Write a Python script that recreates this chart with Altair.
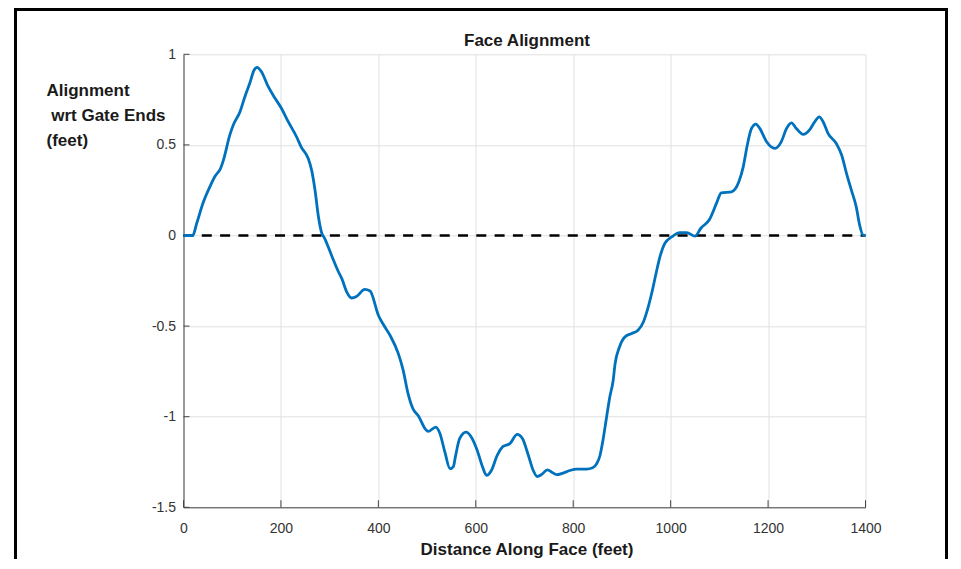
import altair as alt
import pandas as pd

# ---- data ----
distance = [0, 19, 27, 41, 54, 65, 76, 82, 95, 102, 116, 126, 136, 145, 151, 160, 174, 188,
            201, 215, 232, 242, 256, 263, 270, 277, 283, 290, 304, 318, 325, 335, 345, 355,
            372, 383, 400, 410, 424, 441, 451, 461, 471, 482, 497, 502, 518, 526, 537, 547,
            554, 558, 567, 580, 591, 603, 614, 622, 632, 644, 656, 670, 685, 696, 708, 718,
            726, 735, 747, 756, 766, 779, 793, 807, 827, 840, 848, 855, 861, 868, 875, 882,
            886, 895, 906, 920, 933, 944, 952, 961, 970, 978, 988, 1002, 1019, 1033, 1050,
            1062, 1080, 1094, 1104, 1125, 1140, 1149, 1158, 1166, 1175, 1183, 1197, 1214,
            1227, 1238, 1248, 1258, 1272, 1286, 1296, 1305, 1313, 1323, 1340, 1351, 1361,
            1371, 1381, 1388, 1395, 1400]
alignment = [0, 0, 0.066, 0.186, 0.268, 0.328, 0.37, 0.416, 0.554, 0.609, 0.683, 0.766, 0.84,
             0.913, 0.928, 0.904, 0.821, 0.757, 0.702, 0.628, 0.545, 0.486, 0.425, 0.361,
             0.25, 0.103, 0.02, -0.017, -0.11, -0.2, -0.238, -0.311, -0.345, -0.337, -0.297,
             -0.306, -0.44, -0.49, -0.551, -0.652, -0.744, -0.873, -0.956, -0.995, -1.07,
             -1.081, -1.057, -1.09, -1.2, -1.287, -1.275, -1.223, -1.12, -1.085, -1.113,
             -1.186, -1.278, -1.324, -1.297, -1.214, -1.164, -1.149, -1.098, -1.122, -1.214,
             -1.297, -1.33, -1.319, -1.293, -1.306, -1.32, -1.311, -1.297, -1.289, -1.289,
             -1.282, -1.26, -1.214, -1.131, -1.011, -0.892, -0.8, -0.707, -0.615, -0.56,
             -0.541, -0.523, -0.477, -0.413, -0.32, -0.21, -0.118, -0.044, -0.008, 0.016,
             0.016, -0.003, 0.04, 0.09, 0.177, 0.235, 0.241, 0.296, 0.379, 0.508, 0.591,
             0.615, 0.591, 0.517, 0.481, 0.517, 0.591, 0.622, 0.591, 0.558, 0.586, 0.628,
             0.655, 0.628, 0.564, 0.508, 0.444, 0.343, 0.25, 0.158, 0.057, 0.002, 0]
zero_x = [0, 1400]
zero_y = [0, 0]
x_ticks = [0, 200, 400, 600, 800, 1000, 1200, 1400]
y_ticks = [-1.5, -1, -0.5, 0, 0.5, 1]
title_text = "Face Alignment"
x_title = "Distance Along Face (feet)"
y_title = ["Alignment", "\u200b\u00a0wrt Gate Ends", "(feet)"]

# ---- styling ----
W, H = 682, 453
FONT = "Liberation Sans"
AXIS_C = "#444444"
GRID_C = "#e0e0e0"
LABEL_C = "#333333"
TEXT_C = "#1a1a1a"

xscale = alt.Scale(domain=[0, 1400], nice=False, zero=False)
yscale = alt.Scale(domain=[-1.5, 1], nice=False, zero=False)

curve_df = pd.DataFrame({"d": distance, "a": alignment})
zero_df = pd.DataFrame({"d": zero_x, "a": zero_y})
xt_df = pd.DataFrame({"t": x_ticks})
yt_df = pd.DataFrame({"a": y_ticks})
frame_df = pd.DataFrame({"k": [0]})

x_axis = alt.Axis(
    values=x_ticks, grid=True, gridColor=GRID_C, gridWidth=1,
    ticks=False, domain=True, domainColor=AXIS_C, domainWidth=1,
    labelFont=FONT, labelFontSize=14, labelColor=LABEL_C, labelPadding=14,
    labelFlush=False, labelOverlap=False, labelExpr="toString(datum.value)",
    title=x_title, titleFont=FONT, titleFontSize=17, titleFontWeight="bold",
    titleColor=TEXT_C, titleX=W / 2 + 2, titleY=47, titleBaseline="alphabetic",
    titleAlign="center",
)
y_axis = alt.Axis(
    values=y_ticks, grid=True, gridColor=GRID_C, gridWidth=1,
    ticks=False, domain=True, domainColor=AXIS_C, domainWidth=1,
    labelFont=FONT, labelFontSize=14, labelColor=LABEL_C, labelPadding=8,
    labelOverlap=False, labelExpr="toString(datum.value)",
    title=y_title, titleFont=FONT, titleFontSize=17, titleFontWeight="bold",
    titleColor=TEXT_C, titleAngle=0, titleAlign="left", titleBaseline="alphabetic",
    titleX=-137.5, titleY=41.4, titleLineHeight=25,
)
top_axis = alt.Axis(
    orient="top", labels=False, ticks=False, domain=False, grid=False,
    title=title_text, titleFont=FONT, titleFontSize=17, titleFontWeight="bold",
    titleColor=TEXT_C, titleX=W / 2 + 2, titleY=-9.3, titleBaseline="alphabetic",
    titleAlign="center",
)

frame = alt.Chart(frame_df).mark_rect(
    fill="transparent", stroke="black", strokeWidth=3
).encode(
    x=alt.value(-168), x2=alt.value(763), y=alt.value(-44.8), y2=alt.value(620)
)

xticks_layer = alt.Chart(xt_df).mark_tick(
    orient="vertical", color=AXIS_C, thickness=1, size=7, opacity=1
).encode(
    x=alt.X("t:Q", scale=xscale, axis=None), y=alt.value(H - 3.5)
)

yticks_layer = alt.Chart(yt_df).mark_tick(
    orient="horizontal", color=AXIS_C, thickness=1, size=6, opacity=1
).encode(
    y=alt.Y("a:Q", scale=yscale, axis=y_axis), x=alt.value(3)
)

zero_line = alt.Chart(zero_df).mark_line(
    color="black", strokeWidth=2.5, strokeDash=[10, 8.3]
).encode(
    x=alt.X("d:Q", scale=xscale, axis=top_axis),
    y=alt.Y("a:Q", scale=yscale, axis=y_axis),
)

curve = alt.Chart(curve_df).mark_line(
    color="#0072BD", strokeWidth=2.8, interpolate="monotone"
).encode(
    x=alt.X("d:Q", scale=xscale, axis=x_axis),
    y=alt.Y("a:Q", scale=yscale, axis=y_axis),
)

chart = alt.layer(frame, xticks_layer, yticks_layer, zero_line, curve).resolve_axis(
    x="independent"
).properties(
    width=W, height=H,
    autosize=alt.AutoSizeParams(type="none"),
    padding={"left": 175.5, "top": 46.3, "right": 82.5, "bottom": 51.7},
    background="white",
).configure_view(strokeWidth=0)

chart.save("out.html", embed_options={"renderer": "svg", "actions": False})
